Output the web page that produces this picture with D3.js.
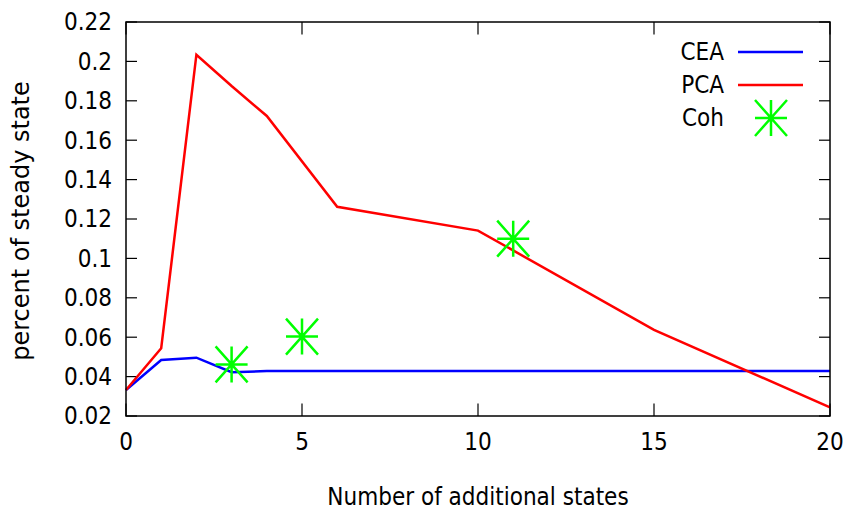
<!DOCTYPE html>
<html>
<head>
<meta charset="utf-8">
<script src="https://cdn.jsdelivr.net/npm/d3@7"></script>
<style>
  body { margin: 0; background: #fff; }
  svg { display: block; }
  .tick-label { font-family: "DejaVu Sans Condensed", "DejaVu Sans", sans-serif; font-stretch: condensed; font-size: 24px; fill: #000; }
</style>
</head>
<body>
<script>
var width = 850
var height = 510

// data
var ceaX = [0, 1, 2, 3, 4, 5, 10, 15, 20]
var ceaY = [0.0332, 0.0484, 0.0496, 0.0422, 0.0428, 0.0428, 0.0428, 0.0428, 0.0428]

var pcaX = [0, 1, 2, 3, 4, 6, 10, 15, 20]
var pcaY = [0.0332, 0.0544, 0.2034, 0.1875, 0.1723, 0.1262, 0.1141, 0.0637, 0.0244]

var cohX = [3, 5, 11]
var cohY = [0.0462, 0.0603, 0.1100]

var xTicks = [0, 5, 10, 15, 20]
var yTicks = [0.02, 0.04, 0.06, 0.08, 0.1, 0.12, 0.14, 0.16, 0.18, 0.2, 0.22]

var plotLeft = 126, plotRight = 830, plotTop = 22, plotBottom = 416

var x = d3.scaleLinear()
    .domain([0, 20])
    .range([plotLeft, plotRight])

var y = d3.scaleLinear()
    .domain([0.02, 0.22])
    .range([plotBottom, plotTop])

var svg = d3.select('body').append('svg')
    .attr('width', width)
    .attr('height', height)

function zip (xs, ys) {
	return xs.map(function (d, i) { return [d, ys[i]] })
}

var line = d3.line()
    .x(function (d) { return x(d[0]) })
    .y(function (d) { return y(d[1]) })

// ticks, inward on all four sides
var tickG = svg.append('g').attr('stroke', '#000').attr('stroke-width', 1.2)
xTicks.forEach(function (t) {
	tickG.append('line').attr('x1', x(t)).attr('x2', x(t)).attr('y1', plotBottom).attr('y2', plotBottom - 12.5)
	tickG.append('line').attr('x1', x(t)).attr('x2', x(t)).attr('y1', plotTop).attr('y2', plotTop + 12.5)
})
yTicks.forEach(function (t) {
	tickG.append('line').attr('x1', plotLeft).attr('x2', plotLeft + 11).attr('y1', y(t)).attr('y2', y(t))
	tickG.append('line').attr('x1', plotRight).attr('x2', plotRight - 11).attr('y1', y(t)).attr('y2', y(t))
})

svg.selectAll('.ylab')
    .data(yTicks)
  .enter().append('text')
    .attr('class', 'tick-label')
    .attr('x', plotLeft - 14)
    .attr('y', function (d) { return y(d) })
    .attr('dy', '0.35em')
    .attr('text-anchor', 'end')
    .text(function (d) { return String(+d.toFixed(2)) })

svg.selectAll('.xlab')
    .data(xTicks)
  .enter().append('text')
    .attr('class', 'tick-label')
    .attr('x', function (d) { return x(d) })
    .attr('y', 450)
    .attr('text-anchor', 'middle')
    .text(function (d) { return d })

svg.append('text')
    .attr('class', 'tick-label')
    .attr('x', (plotLeft + plotRight) / 2)
    .attr('y', 505)
    .attr('text-anchor', 'middle')
    .text('Number of additional states')

svg.append('text')
    .attr('transform', 'translate(29,221) rotate(-90)')
    .attr('text-anchor', 'middle')
    .style('font-family', '"DejaVu Sans", sans-serif')
    .style('font-size', '24px')
    .text('percent of steady state')

// series
svg.append('path')
    .datum(zip(ceaX, ceaY))
    .attr('d', line)
    .attr('fill', 'none')
    .attr('stroke', '#0000ff')
    .attr('stroke-width', 2.5)

svg.append('path')
    .datum(zip(pcaX, pcaY))
    .attr('d', line)
    .attr('fill', 'none')
    .attr('stroke', '#ff0000')
    .attr('stroke-width', 2.5)

function star (g, cx, cy) {
	var hw = 16, hh = 18
	var p = 'M' + (cx - hw) + ',' + cy + 'L' + (cx + hw) + ',' + cy +
	    'M' + cx + ',' + (cy - hh) + 'L' + cx + ',' + (cy + hh) +
	    'M' + (cx - hw) + ',' + (cy - hh) + 'L' + (cx + hw) + ',' + (cy + hh) +
	    'M' + (cx - hw) + ',' + (cy + hh) + 'L' + (cx + hw) + ',' + (cy - hh)
	g.append('path')
	    .attr('d', p)
	    .attr('fill', 'none')
	    .attr('stroke', '#00ff00')
	    .attr('stroke-width', 2.5)
}

var cohG = svg.append('g')
zip(cohX, cohY).forEach(function (d) { star(cohG, x(d[0]), y(d[1])) })

// legend
var legNames = ['CEA', 'PCA', 'Coh']
var legColors = ['#0000ff', '#ff0000', '#00ff00']
legNames.forEach(function (n, i) {
	var ly = 52 + i * 33
	svg.append('text')
	    .attr('class', 'tick-label')
	    .attr('x', 724)
	    .attr('y', ly + 8)
	    .attr('text-anchor', 'end')
	    .text(n)
	if (i < 2) {
		svg.append('line')
		    .attr('x1', 738).attr('x2', 803)
		    .attr('y1', ly).attr('y2', ly)
		    .attr('stroke', legColors[i])
		    .attr('stroke-width', 2.5)
	} else {
		star(svg, 771, ly)
	}
})

// frame
svg.append('rect')
    .attr('x', plotLeft)
    .attr('y', plotTop)
    .attr('width', plotRight - plotLeft)
    .attr('height', plotBottom - plotTop)
    .attr('fill', 'none')
    .attr('stroke', '#000')
    .attr('stroke-width', 1.5)
</script>
</body>
</html>
